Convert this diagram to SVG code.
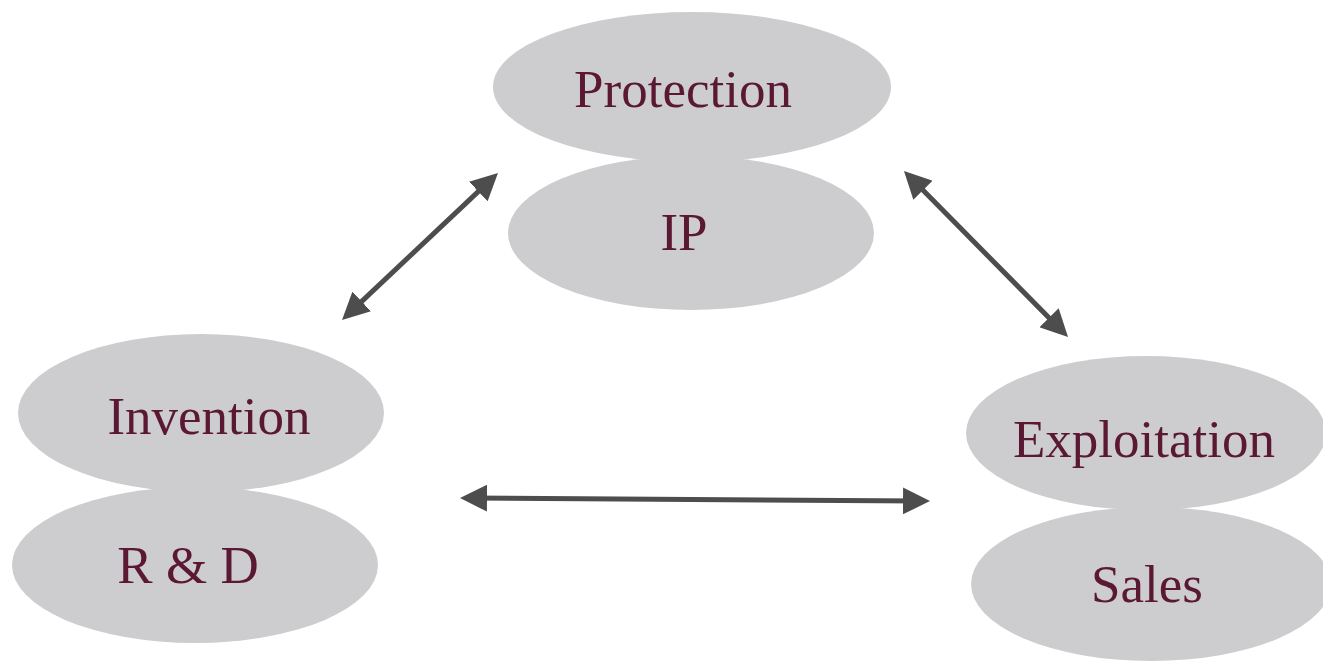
<svg xmlns="http://www.w3.org/2000/svg" width="1323" height="661" viewBox="0 0 1323 661">
<style>
.blob{fill:#cdcdcf}
.lbl{font-family:"Liberation Serif","Times New Roman",serif;font-size:53px;fill:#5a1832;text-anchor:middle}
.con{stroke:#4d4d4d;stroke-width:5;fill:none;marker-start:url(#ah);marker-end:url(#ah)}
</style>
<defs>
<marker id="ah" viewBox="0 0 27 27" refX="17" refY="13.5" markerWidth="27" markerHeight="27" markerUnits="userSpaceOnUse" orient="auto-start-reverse">
<path d="M0,0 L27,13.5 L0,27 z" fill="#4d4d4d"/>
</marker>
</defs>
<rect width="1323" height="661" fill="#ffffff"/>
<g id="node-ip">
<ellipse class="blob" cx="691" cy="233" rx="183" ry="77"/>
<text class="lbl" x="684" y="250">IP</text>
</g>
<g id="node-protection">
<ellipse class="blob" cx="692" cy="87" rx="199" ry="75"/>
<text class="lbl" x="683" y="107">Protection</text>
</g>
<g id="node-rd">
<ellipse class="blob" cx="195" cy="565" rx="183" ry="78"/>
<text class="lbl" x="188" y="583">R &amp; D</text>
</g>
<g id="node-invention">
<ellipse class="blob" cx="201" cy="413" rx="183" ry="79"/>
<text class="lbl" x="209" y="434">Invention</text>
</g>
<g id="node-sales">
<ellipse class="blob" cx="1151" cy="584" rx="180" ry="77"/>
<text class="lbl" x="1147" y="602">Sales</text>
</g>
<g id="node-exploitation">
<ellipse class="blob" cx="1146" cy="433" rx="180" ry="77"/>
<text class="lbl" x="1144" y="457">Exploitation</text>
</g>
<g id="connectors">
<line class="con" x1="349.3" y1="313.1" x2="490.7" y2="179.9"/>
<line class="con" x1="911" y1="178.1" x2="1061" y2="329.9"/>
<line class="con" x1="470" y1="498" x2="920" y2="501"/>
</g>
</svg>
